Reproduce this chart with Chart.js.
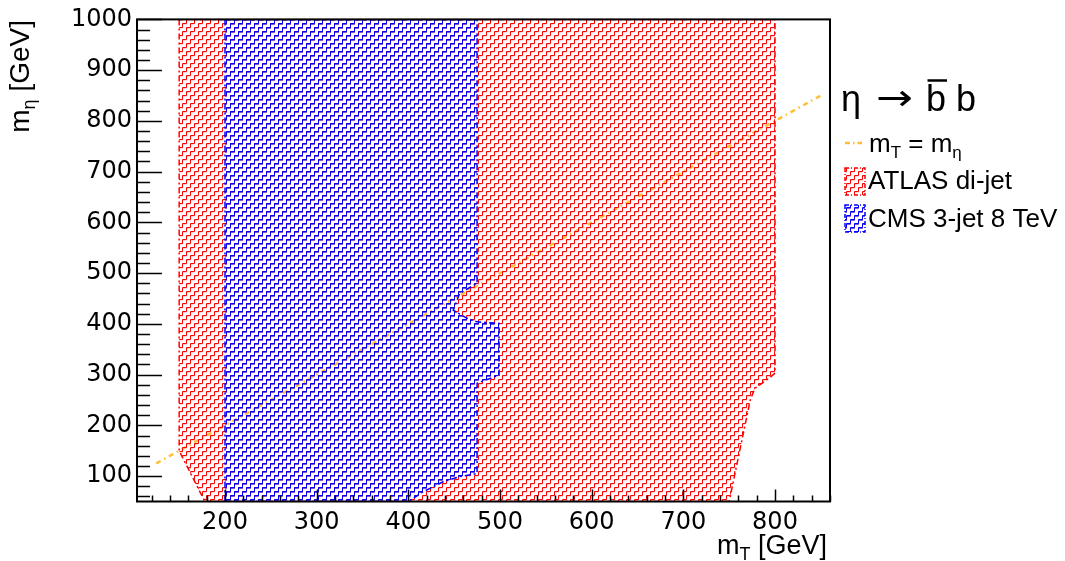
<!DOCTYPE html>
<html>
<head>
<meta charset="utf-8">
<script src="https://cdn.jsdelivr.net/npm/chart.js@4.4.1/dist/chart.umd.min.js"></script>
<style>
html, body { margin: 0; padding: 0; background: #fff; }
#wrap { width: 1065px; height: 561px; }
</style>
</head>
<body>
<div id="wrap"><canvas id="chart" width="1065" height="561"></canvas></div>
<script>
// tick labels
const xTicks = [200, 300, 400, 500, 600, 700, 800];
const yTicks = [100, 200, 300, 400, 500, 600, 700, 800, 900, 1000];

// ATLAS di-jet excluded region (closed outline)
const atlasX = [150, 150, 178, 750, 773, 778, 795, 800, 800, 150];
const atlasY = [1000, 150, 50, 50, 250, 273, 295, 303, 1000, 1000];

// CMS 3-jet 8 TeV excluded region (closed outline)
const cmsX = [200, 200, 400, 416, 438, 456, 475, 475, 499, 499, 475, 464, 449, 456, 475, 475, 200];
const cmsY = [1000, 50, 50, 69, 89, 99, 105, 283, 299, 401, 404, 411, 427, 460, 480, 1000, 1000];

// mT = m_eta diagonal
const diagX = [125, 850];
const diagY = [125, 850];

const FONT = '"Liberation Sans", Arial, sans-serif';
const canvas = document.getElementById('chart');
const ctx = canvas.getContext('2d');

function toPoints(xs, ys) {
    return xs.map((x, i) => ({ x: x, y: ys[i] }));
}

// ROOT-like staircase hatch
function hatch(main, shade) {
    const c = document.createElement('canvas');
    c.width = 8; c.height = 8;
    const g = c.getContext('2d');
    g.lineWidth = 1;
    function stair(color, oy) {
        g.strokeStyle = color;
        for (const dy of [-8, 0, 8]) {
            const b = dy + oy;
            g.beginPath();
            g.moveTo(0, 7.5 + b);
            g.lineTo(2.5, 7.5 + b);
            g.lineTo(2.5, 3.5 + b);
            g.lineTo(6.5, 3.5 + b);
            g.lineTo(6.5, -0.5 + b);
            g.lineTo(8, -0.5 + b);
            g.stroke();
        }
    }
    stair(shade, 1);
    stair(main, 0);
    return ctx.createPattern(c, 'repeat');
}

const redHatch = hatch('#ff0000', 'rgba(255,130,150,0.35)');
const blueHatch = hatch('#0000ff', 'rgba(110,50,200,0.85)');

function drawRuns(g, parts, x, y) {
    let cx = x;
    for (const p of parts) {
        g.font = p.size + 'px ' + FONT;
        g.fillText(p.t, cx, y + (p.dy || 0));
        cx += g.measureText(p.t).width;
    }
    return cx;
}
function runsWidth(g, parts) {
    let w = 0;
    for (const p of parts) {
        g.font = p.size + 'px ' + FONT;
        w += g.measureText(p.t).width;
    }
    return w;
}

const rootFrame = {
    id: 'rootFrame',
    afterDraw(chart) {
        const g = chart.ctx;
        const a = chart.chartArea;
        const xs = chart.scales.x, ys = chart.scales.y;
        g.save();
        g.strokeStyle = '#000';
        g.fillStyle = '#000';

        // ticks inside the frame
        g.lineWidth = 1.5;
        g.beginPath();
        for (let v = 60; v <= 1000; v += 20) {
            const py = Math.round(ys.getPixelForValue(v)) + 0.5;
            const len = v % 100 === 0 ? 25 : 13;
            g.moveTo(a.left, py);
            g.lineTo(a.left + len, py);
        }
        for (let v = 120; v <= 860; v += 20) {
            const px = Math.round(xs.getPixelForValue(v)) + 0.5;
            const len = v % 100 === 0 ? 12 : 6;
            g.moveTo(px, a.bottom);
            g.lineTo(px, a.bottom - len);
        }
        g.stroke();

        // frame
        g.lineWidth = 2;
        g.strokeRect(a.left, a.top, a.right - a.left, a.bottom - a.top);

        // axis titles
        g.textAlign = 'left';
        g.textBaseline = 'alphabetic';
        const xt = [{ t: 'm', size: 27 }, { t: 'T', size: 18, dy: 6 }, { t: ' [GeV]', size: 27 }];
        drawRuns(g, xt, 827 - runsWidth(g, xt), 554);

        const yt = [{ t: 'm', size: 28 }, { t: 'η', size: 18, dy: 6 }, { t: ' [GeV]', size: 28 }];
        g.save();
        g.translate(29, 20);
        g.rotate(-Math.PI / 2);
        drawRuns(g, yt, -runsWidth(g, yt), 0);
        g.restore();

        // title
        g.font = '36px ' + FONT;
        g.fillText('η', 841, 111);
        g.fillText('b', 926, 111);
        g.fillText('b', 956, 111);
        g.save();
        g.font = '36px "DejaVu Sans"';
        g.textBaseline = 'middle';
        const aw = g.measureText('→').width;
        g.translate(876, 101);
        g.scale(37 / aw, 1);
        g.fillText('→', 0, 0);
        g.restore();
        g.lineWidth = 2.5;
        g.beginPath();
        g.moveTo(927.5, 80.5);
        g.lineTo(947, 80.5);
        g.stroke();

        // legend
        g.strokeStyle = '#ffbf33';
        g.lineWidth = 2.5;
        g.setLineDash([5, 3, 1.5, 3]);
        g.beginPath();
        g.moveTo(845, 143);
        g.lineTo(862, 143);
        g.stroke();

        drawRuns(g, [{ t: 'm', size: 26 }, { t: 'T', size: 17, dy: 6 }, { t: ' = m', size: 26 }, { t: 'η', size: 17, dy: 6 }], 869, 152);

        g.lineWidth = 1.5;
        g.setLineDash([4, 2, 1, 2]);
        g.fillStyle = redHatch;
        g.fillRect(845, 168, 20, 27);
        g.strokeStyle = '#ff0000';
        g.strokeRect(845, 168, 20, 27);
        g.fillStyle = blueHatch;
        g.fillRect(845, 205, 20, 27);
        g.strokeStyle = '#0000ff';
        g.strokeRect(845, 205, 20, 27);
        g.setLineDash([]);

        g.fillStyle = '#000';
        g.font = '26px ' + FONT;
        g.fillText('ATLAS di-jet', 868, 189);
        g.fillText('CMS 3-jet 8 TeV', 868, 227);
        g.restore();
    }
};

new Chart(ctx, {
    type: 'scatter',
    data: {
        datasets: [{
            label: 'CMS 3-jet 8 TeV',
            data: toPoints(cmsX, cmsY),
            showLine: true,
            fill: 'shape',
            backgroundColor: blueHatch,
            borderColor: '#0000ff',
            borderWidth: 1.5,
            borderDash: [6, 3, 2, 3],
            pointRadius: 0,
            order: 0
        }, {
            label: 'ATLAS di-jet',
            data: toPoints(atlasX, atlasY),
            showLine: true,
            fill: 'shape',
            backgroundColor: redHatch,
            borderColor: '#ff0000',
            borderWidth: 1.5,
            borderDash: [6, 3, 2, 3],
            pointRadius: 0,
            order: 1
        }, {
            label: 'mT = m_eta',
            data: toPoints(diagX, diagY),
            showLine: true,
            fill: false,
            borderColor: '#ffbf33',
            borderWidth: 2.5,
            borderDash: [5, 4, 1.5, 4],
            pointRadius: 0,
            order: 2
        }]
    },
    options: {
        responsive: false,
        animation: false,
        devicePixelRatio: 1,
        layout: { padding: { left: 0, top: 19, right: 235, bottom: 0 } },
        plugins: { legend: { display: false }, tooltip: { enabled: false } },
        scales: {
            x: {
                type: 'linear',
                min: 104,
                max: 860,
                grid: { display: false, drawTicks: false, tickLength: 0 },
                border: { display: false },
                afterBuildTicks: s => { s.ticks = xTicks.map(v => ({ value: v })); },
                afterFit: s => { s.height = 59.5; },
                ticks: {
                    padding: 7,
                    color: '#000',
                    autoSkip: false,
                    maxRotation: 0,
                    font: { family: 'DejaVu Sans', size: 24 },
                    callback: v => String(v)
                }
            },
            y: {
                type: 'linear',
                min: 50,
                max: 1000,
                grid: { display: false, drawTicks: false, tickLength: 0 },
                border: { display: false },
                afterBuildTicks: s => { s.ticks = yTicks.map(v => ({ value: v })); },
                afterFit: s => { s.width = 137; },
                ticks: {
                    padding: 5,
                    color: '#000',
                    autoSkip: false,
                    font: { family: 'DejaVu Sans', size: 24 },
                    callback: v => String(v)
                }
            }
        }
    },
    plugins: [rootFrame]
});
</script>
</body>
</html>
